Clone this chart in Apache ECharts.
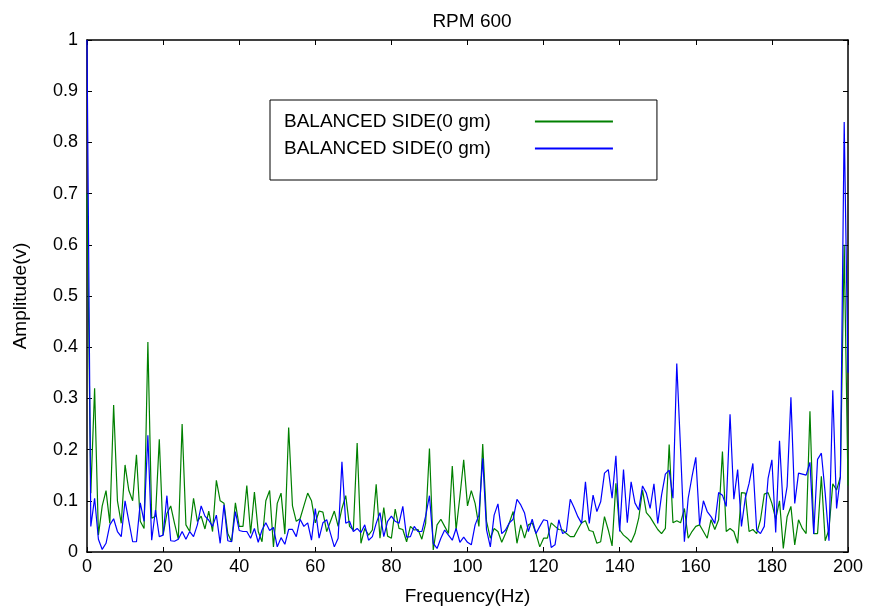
<!DOCTYPE html>
<html>
<head>
<meta charset="utf-8">
<title>RPM 600</title>
<script src="https://cdn.jsdelivr.net/npm/echarts@6/dist/echarts.min.js"></script>
<style>
  html, body { margin: 0; padding: 0; background: #fff; }
  #chart { width: 871px; height: 612px; }
</style>
</head>
<body>
<div id="chart"></div>
<script>
// amplitude spectrum, one value per Hz (0..200)
var greenAmp = [
  0.70, 0.115, 0.32, 0.033, 0.09, 0.12, 0.056, 0.287, 0.1, 0.056,
  0.17, 0.12, 0.10, 0.19, 0.06, 0.046, 0.41, 0.066, 0.07, 0.22,
  0.033, 0.075, 0.09, 0.056, 0.025, 0.25, 0.053, 0.04, 0.105, 0.06,
  0.07, 0.045, 0.08, 0.04, 0.14, 0.10, 0.095, 0.036, 0.02, 0.096,
  0.05, 0.05, 0.13, 0.036, 0.117, 0.04, 0.02, 0.10, 0.12, 0.01,
  0.095, 0.115, 0.035, 0.243, 0.09, 0.06, 0.065, 0.09, 0.115, 0.10,
  0.057, 0.08, 0.078, 0.04, 0.06, 0.08, 0.05, 0.085, 0.11, 0.05,
  0.043, 0.213, 0.017, 0.046, 0.033, 0.043, 0.132, 0.027, 0.087, 0.031,
  0.027, 0.084, 0.046, 0.044, 0.02, 0.05, 0.043, 0.044, 0.025, 0.056,
  0.202, 0.004, 0.053, 0.064, 0.05, 0.036, 0.168, 0.043, 0.108, 0.18,
  0.09, 0.12, 0.095, 0.05, 0.211, 0.06, 0.027, 0.046, 0.04, 0.019,
  0.036, 0.057, 0.079, 0.017, 0.053, 0.027, 0.053, 0.057, 0.036, 0.01,
  0.027, 0.027, 0.057, 0.05, 0.044, 0.043, 0.036, 0.03, 0.03, 0.044,
  0.057, 0.061, 0.042, 0.04, 0.017, 0.02, 0.069, 0.043, 0.012, 0.134,
  0.043, 0.033, 0.027, 0.019, 0.036, 0.066, 0.121, 0.077, 0.068, 0.056,
  0.044, 0.036, 0.046, 0.21, 0.057, 0.061, 0.057, 0.085, 0.027, 0.04,
  0.05, 0.053, 0.04, 0.027, 0.063, 0.044, 0.063, 0.196, 0.04, 0.046,
  0.04, 0.017, 0.116, 0.115, 0.04, 0.044, 0.036, 0.063, 0.113, 0.116,
  0.095, 0.064, 0.1, 0.007, 0.069, 0.089, 0.014, 0.063, 0.046, 0.036,
  0.275, 0.036, 0.036, 0.148, 0.022, 0.044, 0.133, 0.121, 0.147, 0.6,
  0.13
];
var blueAmp = [
  1.0, 0.05, 0.105, 0.025, 0.005, 0.017, 0.053, 0.065, 0.04, 0.03,
  0.10, 0.06, 0.02, 0.02, 0.096, 0.06, 0.228, 0.023, 0.082, 0.03,
  0.033, 0.11, 0.022, 0.021, 0.025, 0.04, 0.025, 0.04, 0.03, 0.053,
  0.09, 0.07, 0.062, 0.05, 0.072, 0.017, 0.092, 0.022, 0.02, 0.079,
  0.042, 0.04, 0.04, 0.027, 0.046, 0.019, 0.043, 0.057, 0.042, 0.048,
  0.01, 0.028, 0.015, 0.044, 0.044, 0.03, 0.064, 0.05, 0.057, 0.023,
  0.085, 0.027, 0.057, 0.063, 0.036, 0.01, 0.027, 0.176, 0.056, 0.06,
  0.04, 0.046, 0.038, 0.053, 0.023, 0.03, 0.056, 0.077, 0.03, 0.06,
  0.07, 0.06, 0.056, 0.089, 0.029, 0.03, 0.05, 0.04, 0.04, 0.07,
  0.11, 0.017, 0.007, 0.027, 0.043, 0.033, 0.023, 0.046, 0.019, 0.029,
  0.019, 0.014, 0.053, 0.072, 0.183, 0.043, 0.01, 0.072, 0.094, 0.036,
  0.043, 0.057, 0.064, 0.103, 0.092, 0.076, 0.04, 0.064, 0.036, 0.05,
  0.063, 0.061, 0.009, 0.014, 0.063, 0.036, 0.04, 0.103, 0.087, 0.069,
  0.056, 0.137, 0.056, 0.111, 0.079, 0.098, 0.154, 0.161, 0.105, 0.188,
  0.04, 0.161, 0.057, 0.137, 0.096, 0.082, 0.129, 0.115, 0.085, 0.133,
  0.056, 0.111, 0.152, 0.16, 0.105, 0.368, 0.2, 0.02, 0.105, 0.147,
  0.185, 0.053, 0.1, 0.079, 0.069, 0.056, 0.116, 0.111, 0.089, 0.269,
  0.103, 0.161, 0.05, 0.105, 0.134, 0.173, 0.043, 0.036, 0.05, 0.144,
  0.18, 0.038, 0.217, 0.082, 0.128, 0.302, 0.095, 0.154, 0.152, 0.15,
  0.175, 0.035, 0.181, 0.193, 0.115, 0.022, 0.316, 0.085, 0.147, 0.84,
  0.35
];
var seriesNames = ["BALANCED SIDE(0 gm)", "BALANCED SIDE(0 gm)"];
var titleText = "RPM 600";
var xName = "Frequency(Hz)";
var yName = "Amplitude(v)";

var fontName = "Liberation Sans";

function toPairs(arr) {
  var out = [];
  for (var i = 0; i < arr.length; i++) {
    out.push([i, arr[i]]);
  }
  return out;
}

// box axes (top / right) only carry inward ticks, like matlab "box on"
function boxAxis(pos, isX) {
  return {
    type: "value",
    position: pos,
    min: 0,
    max: isX ? 200 : 1,
    interval: isX ? 20 : 0.1,
    axisLine: { show: true, onZero: false, lineStyle: { color: "#000", width: 1.5 } },
    axisTick: { show: true, inside: true, length: 5, lineStyle: { color: "#000" } },
    axisLabel: { show: false },
    splitLine: { show: false }
  };
}

var myChart = echarts.init(document.getElementById("chart"), null, { renderer: "canvas" });

var option = {
  backgroundColor: "#fff",
  animation: false,
  textStyle: { fontFamily: fontName },
  title: {
    text: titleText,
    left: 467,
    top: 7,
    textAlign: "center",
    textStyle: { fontFamily: fontName, fontSize: 19, fontWeight: "normal", color: "#000" }
  },
  grid: {
    left: 87,
    right: 23,
    top: 40,
    bottom: 60
  },
  legend: {
    // both entries carry the same label, so the series ids are mapped to text
    data: ["g", "b"],
    formatter: function(name) {
      return name === "g" ? seriesNames[0] : seriesNames[1];
    },
    orient: "vertical",
    left: 270,
    top: 100,
    align: "right",
    padding: [12, 43, 22, 14],
    itemGap: 8,
    itemWidth: 78,
    itemHeight: 20,
    itemStyle: { opacity: 0 },
    borderColor: "#000",
    borderWidth: 1,
    textStyle: {
      fontFamily: fontName,
      fontSize: 19,
      color: "#000",
      padding: [0, 39, 0, 0]
    }
  },
  xAxis: [
    {
      type: "value",
      min: 0,
      max: 200,
      interval: 20,
      name: xName,
      nameLocation: "middle",
      nameGap: 35,
      nameTextStyle: { fontFamily: fontName, fontSize: 19, color: "#000" },
      axisLine: { show: true, onZero: false, lineStyle: { color: "#000", width: 1.5 } },
      axisTick: { show: true, inside: true, length: 5, lineStyle: { color: "#000" } },
      axisLabel: { fontFamily: fontName, fontSize: 18, color: "#000", margin: 6 },
      splitLine: { show: false }
    },
    boxAxis("top", true)
  ],
  yAxis: [
    {
      type: "value",
      min: 0,
      max: 1,
      interval: 0.1,
      name: yName,
      nameLocation: "middle",
      nameGap: 57,
      nameTextStyle: { fontFamily: fontName, fontSize: 19, color: "#000" },
      axisLine: { show: true, onZero: false, lineStyle: { color: "#000", width: 1.5 } },
      axisTick: { show: true, inside: true, length: 5, lineStyle: { color: "#000" } },
      axisLabel: { fontFamily: fontName, fontSize: 18, color: "#000", margin: 9 },
      splitLine: { show: false }
    },
    boxAxis("right", false)
  ],
  series: [
    {
      name: "g",
      type: "line",
      data: toPairs(greenAmp),
      showSymbol: false,
      symbol: "none",
      lineStyle: { color: "#008000", width: 1.2 },
      itemStyle: { color: "#008000" },
      z: 2
    },
    {
      name: "b",
      type: "line",
      data: toPairs(blueAmp),
      showSymbol: false,
      symbol: "none",
      lineStyle: { color: "#0000ff", width: 1.2 },
      itemStyle: { color: "#0000ff" },
      z: 3
    }
  ]
};

myChart.setOption(option);
</script>
</body>
</html>
